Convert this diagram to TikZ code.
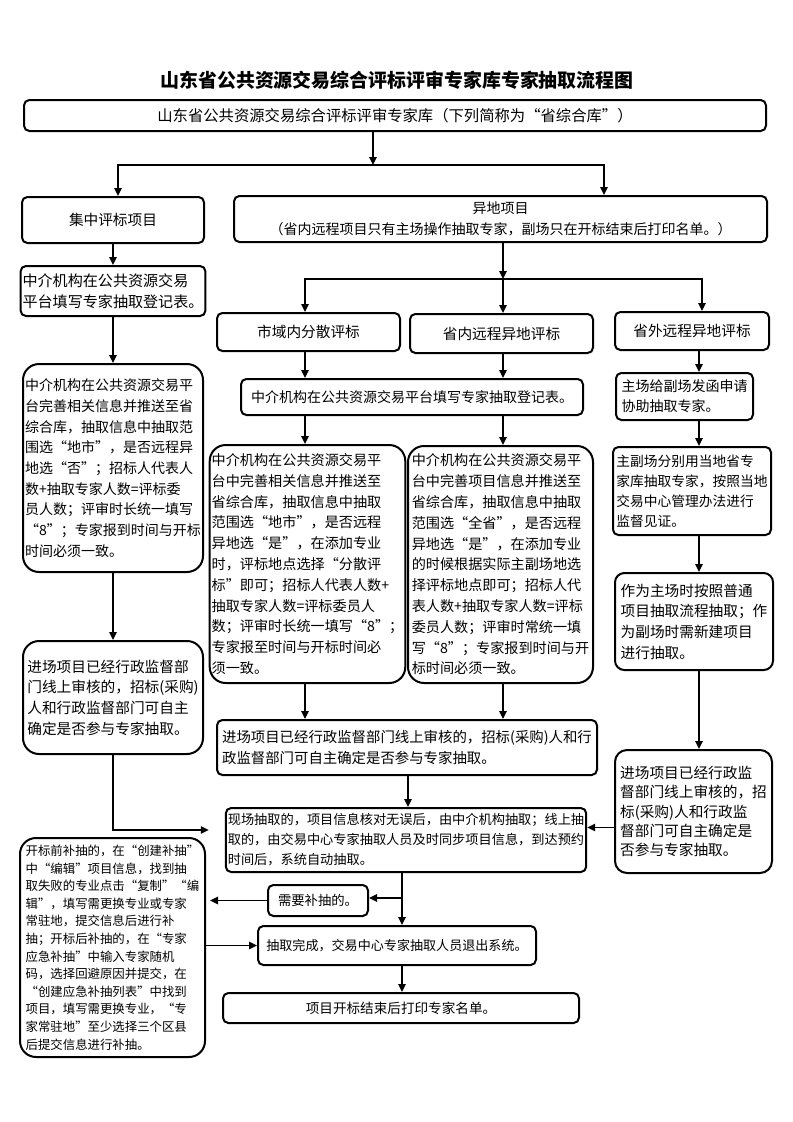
\documentclass[tikz,border=0pt]{standalone}
\usepackage{fontspec}
\setmainfont{Noto Sans CJK SC}
\usetikzlibrary{arrows.meta}

\begin{document}
\begin{tikzpicture}
[x=0.75pt,y=-0.75pt,>={Triangle[length=6pt,width=5.5pt]},%
 boxstyle/.style={draw,line width=1.5pt,rounded corners=4pt,align=left,inner sep=1.5pt,font=\fontsize{11}{15.5}\selectfont},%
 bigbox/.style={boxstyle,rounded corners=12pt},%
 linestyle/.style={line width=1.3pt},%
 arrowstyle/.style={line width=1.3pt,->}]
\useasboundingbox (0,0) rectangle (793,1122);
%% title and library
\node (title) at (397,80) {\fontsize{14.2}{16}\selectfont\bfseries 山东省公共资源交易综合评标评审专家库专家抽取流程图};
\node[boxstyle,font=\fontsize{11.5}{14}\selectfont,minimum width=556.5pt,minimum height=23.25pt] (lib) at (395,115.5) {山东省公共资源交易综合评标评审专家库（下列简称为“省综合库”）};
\node[boxstyle,minimum width=136.5pt,minimum height=34.5pt] (central) at (113,220) {集中评标项目};
\node[boxstyle,align=center,font=\fontsize{10.5}{16}\selectfont,minimum width=399.75pt,minimum height=34.5pt] (remote) at (500.5,219) {异地项目\\（省内远程项目只有主场操作抽取专家，副场只在开标结束后打印名单。）};
%% left column
\node[boxstyle,font=\fontsize{11.3}{15.5}\selectfont,minimum width=135pt,minimum height=37.5pt] (regleft) at (113,291) {中介机构在公共资源交易\\平台填写专家抽取登记表。};
\node[bigbox,font=\fontsize{10.5}{15.5}\selectfont,minimum width=135pt,minimum height=156pt] (infoleft) at (113,468) {中介机构在公共资源交易平\\台完善相关信息并推送至省\\综合库，抽取信息中抽取范\\围选“地市”，是否远程异\\地选“否”；招标人代表人\\数+抽取专家人数=评标委\\员人数；评审时长统一填写\\“8”；专家报到时间与开标\\时间必须一致。};
\node[bigbox,minimum width=135pt,minimum height=84.75pt] (checkleft) at (113,697.5) {进场项目已经行政监督部\\门线上审核的，招标(采购)\\人和行政监督部门可自主\\确定是否参与专家抽取。};
%% middle column
\node[boxstyle,minimum width=137.25pt,minimum height=28.5pt] (city) at (308.5,332) {市域内分散评标};
\node[boxstyle,minimum width=137.25pt,minimum height=29.25pt] (inprov) at (501.5,333.5) {省内远程异地评标};
\node[boxstyle,minimum width=115.5pt,minimum height=28.5pt] (outprov) at (692,331) {省外远程异地评标};
\node[boxstyle,font=\fontsize{10.5}{14}\selectfont,minimum width=256.5pt,minimum height=27pt] (regmid) at (412,397) {中介机构在公共资源交易平台填写专家抽取登记表。};
\node[bigbox,font=\fontsize{10.6}{15.6}\selectfont,minimum width=138.75pt,minimum height=178.5pt] (infocity) at (307.5,564) {中介机构在公共资源交易平\\台中完善相关信息并推送至\\省综合库，抽取信息中抽取\\范围选“地市”，是否远程\\异地选“是”，在添加专业\\时，评标地点选择“分散评\\标”即可；招标人代表人数+\\抽取专家人数=评标委员人\\数；评审时长统一填写“8”；\\专家报至时间与开标时间必\\须一致。};
\node[bigbox,font=\fontsize{10.6}{15.6}\selectfont,minimum width=138.75pt,minimum height=177.75pt] (infoprov) at (500.5,564.5) {中介机构在公共资源交易平\\台中完善项目信息并推送至\\省综合库，抽取信息中抽取\\范围选“全省”，是否远程\\异地选“是”，在添加专业\\的时候根据实际主副场地选\\择评标地点即可；招标人代\\表人数+抽取专家人数=评标\\委员人数；评审时常统一填\\写“8”；专家报到时间与开\\标时间必须一致。};
\node[boxstyle,font=\fontsize{10.8}{16}\selectfont,minimum width=285pt,minimum height=41.25pt] (checkmid) at (407,747.5) {进场项目已经行政监督部门线上审核的，招标(采购)人和行\\政监督部门可自主确定是否参与专家抽取。};
%% right column
\node[boxstyle,font=\fontsize{10.5}{15}\selectfont,minimum width=102.75pt,minimum height=35.25pt] (letter) at (684.5,396.5) {主场给副场发函申请\\协助抽取专家。};
\node[boxstyle,font=\fontsize{10.3}{15}\selectfont,minimum width=118.5pt,minimum height=66pt] (localdraw) at (692,491) {主副场分别用当地省专\\家库抽取专家，按照当地\\交易中心管理办法进行\\监督见证。};
\node[boxstyle,rounded corners=7pt,minimum width=118.5pt,minimum height=72.75pt] (hostguest) at (694,621.5) {作为主场时按照普通\\项目抽取流程抽取；作\\为副场时需新建项目\\进行抽取。};
\node[boxstyle,rounded corners=9pt,font=\fontsize{11}{14.5}\selectfont,minimum width=117.75pt,minimum height=92.25pt] (checkright) at (693.5,811.5) {进场项目已经行政监\\督部门线上审核的，招\\标(采购)人和行政监\\督部门可自主确定是\\否参与专家抽取。};
%% bottom
\node[boxstyle,font=\fontsize{9.9}{15}\selectfont,minimum width=265.5pt,minimum height=48pt] (drawing) at (406,840) {现场抽取的，项目信息核对无误后，由中介机构抽取；线上抽\\取的，由交易中心专家抽取人员及时同步项目信息，到达预约\\时间后，系统自动抽取。};
\node[boxstyle,font=\fontsize{10}{12}\selectfont,minimum width=75pt,minimum height=23.25pt] (redraw) at (318,900.5) {需要补抽的。};
\node[boxstyle,font=\fontsize{9.8}{12}\selectfont,minimum width=208.5pt,minimum height=29.25pt] (done) at (397,945.5) {抽取完成，交易中心专家抽取人员退出系统。};
\node[boxstyle,font=\fontsize{10.2}{12}\selectfont,minimum width=267pt,minimum height=22.5pt] (printlist) at (401,1008) {项目开标结束后打印专家名单。};
\node[bigbox,font=\fontsize{9.3}{13.2}\selectfont,minimum width=138.75pt,minimum height=164.25pt] (redrawinfo) at (112.5,947.5) {开标前补抽的，在“创建补抽”\\中“编辑”项目信息，找到抽\\取失败的专业点击“复制”“编\\辑”，填写需更换专业或专家\\常驻地，提交信息后进行补\\抽；开标后补抽的，在“专家\\应急补抽”中输入专家随机\\码，选择回避原因并提交，在\\“创建应急补抽列表”中找到\\项目，填写需更换专业，“专\\家常驻地”至少选择三个区县\\后提交信息进行补抽。};
%% split below the library
\coordinate (split) at (373,165);
\coordinate (splitleft) at (118,165);
\coordinate (splitright) at (604,165);
\draw[arrowstyle] (lib.south -| split) -- (split);
\draw[linestyle,<->] (splitleft |- central.north) -- (splitleft) -- (splitright) -- (splitright |- remote.north);
%% split below the remote projects
\coordinate (fork) at (503,279);
\coordinate (forkleft) at (305,279);
\coordinate (forkright) at (702,279);
\draw[arrowstyle] (remote.south -| fork) -- (fork);
\draw[linestyle,<->] (forkleft |- city.north) -- (forkleft) -- (forkright) -- (forkright |- outprov.north);
\draw[arrowstyle] (fork) -- (fork |- inprov.north);
%% middle column connectors
\draw[arrowstyle] (city.south -| forkleft) -- (forkleft |- regmid.north);
\draw[arrowstyle] (inprov.south -| fork) -- (fork |- regmid.north);
\draw[arrowstyle] (regmid.south -| forkleft) -- (forkleft |- infocity.north);
\draw[arrowstyle] (regmid.south -| fork) -- (fork |- infoprov.north);
\draw[arrowstyle] (infocity.south -| forkleft) -- (forkleft |- checkmid.north);
\draw[arrowstyle] (infoprov.south -| fork) -- (fork |- checkmid.north);
\coordinate (upline) at (408,0);
\draw[arrowstyle] (checkmid.south -| upline) -- (upline |- drawing.north);
%% left column connectors
\draw[arrowstyle] (central) -- (regleft);
\draw[arrowstyle] (regleft) -- (infoleft);
\draw[arrowstyle] (infoleft) -- (checkleft);
\draw[arrowstyle,shorten >=12pt] (checkleft.south) |- ([yshift=7.5pt]drawing.west);
%% right column connectors
\coordinate (rightcol) at (699,0);
\draw[arrowstyle] (outprov.south -| rightcol) -- (rightcol |- letter.north);
\draw[arrowstyle] (letter.south -| rightcol) -- (rightcol |- localdraw.north);
\draw[arrowstyle] (localdraw.south -| rightcol) -- (rightcol |- hostguest.north);
\draw[arrowstyle] (hostguest.south -| rightcol) -- (rightcol |- checkright.north);
\coordinate (fromright) at ([yshift=-12pt]checkright.west);
\draw[arrowstyle] (fromright) -- (fromright -| drawing.east);
%% bottom connectors
\coordinate (midline) at (402,0);
\coordinate (branch) at (402,898);
\draw[arrowstyle] (drawing.south -| midline) -- (midline |- done.north);
\draw[arrowstyle] (branch) -- (branch -| redraw.east);
\draw[arrowstyle,shorten >=3pt] (redraw.west) -- (redraw.west -| redrawinfo.east);
\draw[arrowstyle] (redrawinfo.east |- done.west) -- (done.west);
\draw[arrowstyle] (done.south -| midline) -- (midline |- printlist.north);
\end{tikzpicture}
\end{document}
